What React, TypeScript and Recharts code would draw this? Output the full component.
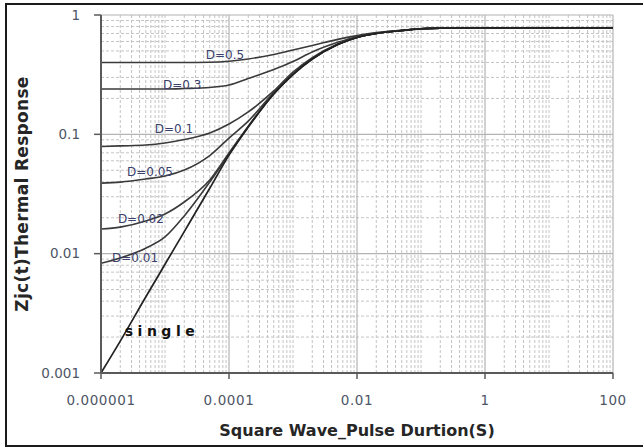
import React from 'react';
import { LineChart, Line, XAxis, YAxis, CartesianGrid, ReferenceDot } from 'recharts';

// pulse durations (s)
const durations = [1e-6, 2e-6, 5e-6, 1e-5, 2e-5, 5e-5, 1e-4, 2e-4, 5e-4, 1e-3, 2e-3, 5e-3, 1e-2, 2e-2, 5e-2, 0.1, 0.2, 1, 10, 100];

// thermal response per duty cycle
const single = [0.001, 0.00185, 0.00433, 0.00815, 0.0153, 0.0353, 0.067, 0.115, 0.218, 0.317, 0.428, 0.566, 0.648, 0.7, 0.741, 0.766, 0.776, 0.78, 0.78, 0.78];
const d05 = [0.4, 0.4, 0.4, 0.4, 0.4, 0.402, 0.41, 0.428, 0.467, 0.509, 0.555, 0.625, 0.672, 0.712, 0.745, 0.768, 0.777, 0.78, 0.78, 0.78];
const d03 = [0.24, 0.24, 0.24, 0.24, 0.242, 0.247, 0.259, 0.294, 0.349, 0.408, 0.49, 0.59, 0.658, 0.705, 0.743, 0.767, 0.777, 0.78, 0.78, 0.78];
const d01 = [0.079, 0.08, 0.0813, 0.0845, 0.0904, 0.1025, 0.122, 0.154, 0.231, 0.333, 0.44, 0.572, 0.652, 0.701, 0.742, 0.766, 0.776, 0.78, 0.78, 0.78];
const d005 = [0.039, 0.0398, 0.0422, 0.0447, 0.0502, 0.0664, 0.0931, 0.129, 0.224, 0.322, 0.431, 0.568, 0.649, 0.7, 0.741, 0.766, 0.776, 0.78, 0.78, 0.78];
const d002 = [0.0161, 0.0167, 0.0188, 0.0215, 0.0271, 0.0414, 0.0697, 0.117, 0.219, 0.319, 0.429, 0.567, 0.648, 0.7, 0.741, 0.766, 0.776, 0.78, 0.78, 0.78];
const d001 = [0.0083, 0.0092, 0.0111, 0.0138, 0.0207, 0.0398, 0.0684, 0.116, 0.218, 0.318, 0.428, 0.566, 0.648, 0.7, 0.741, 0.766, 0.776, 0.78, 0.78, 0.78];

const xTicks = [1e-6, 1e-4, 1e-2, 1, 100];
const xTickLabels = ['0.000001', '0.0001', '0.01', '1', '100'];
const yTicks = [0.001, 0.01, 0.1, 1];
const yTickLabels = ['0.001', '0.01', '0.1', '1'];

const curveLabels = ['D=0.5', 'D=0.3', 'D=0.1', 'D=0.05', 'D=0.02', 'D=0.01'];
const curveLabelX = [8.66e-5, 1.85e-5, 1.38e-5, 5.83e-6, 4.2e-6, 3.4e-6];
const curveLabelY = [0.462, 0.259, 0.111, 0.0483, 0.0195, 0.00918];
const singleLabel = 'single';
const singleLabelX = 8.97e-6;
const singleLabelY = 0.00224;

const xTitle = 'Square Wave_Pulse Durtion(S)';
const yTitle = 'Zjc(t)Thermal Response';

const data = durations.map((x, i) => ({
  x,
  single: single[i],
  d05: d05[i],
  d03: d03[i],
  d01: d01[i],
  d005: d005[i],
  d002: d002[i],
  d001: d001[i],
}));

const X_MIN = -6, X_MAX = 2, Y_MIN = -3, Y_MAX = 0;
const mult = [1, 2, 3, 4, 5, 6, 7, 8, 9];
const xGridAll: number[] = [];
for (let k = X_MIN; k < X_MAX; k++) mult.forEach((m) => xGridAll.push(m * Math.pow(10, k)));
xGridAll.push(100);
const yGridAll: number[] = [];
for (let k = Y_MIN; k < Y_MAX; k++) mult.forEach((m) => yGridAll.push(m * Math.pow(10, k)));
yGridAll.push(1);

const isTick = (v: number, ticks: number[]) => ticks.some((t) => Math.abs(Math.log10(v) - Math.log10(t)) < 1e-6);
const xMinor = xGridAll.filter((v) => !isTick(v, xTicks));
const yMinor = yGridAll.filter((v) => !isTick(v, yTicks));

const xPix = (v: number, off: any) => off.left + (off.width * (Math.log10(v) - X_MIN)) / (X_MAX - X_MIN);
const yPix = (v: number, off: any) => off.top + (off.height * (Y_MAX - Math.log10(v))) / (Y_MAX - Y_MIN);

const fmt = (labels: string[], ticks: number[]) => (v: number) => {
  const i = ticks.findIndex((t) => Math.abs(Math.log10(t) - Math.log10(v)) < 1e-6);
  return i >= 0 ? labels[i] : '';
};

const tickFont = { fontFamily: 'DejaVu Sans', fontSize: 13.5, fill: '#4d5566' };
const labelFill = '#3b3f6b';

export default function App() {
  return (
    <div style={{ position: 'absolute', left: 0, top: 0, width: 643, height: 448, overflow: 'hidden', background: '#fff' }}>
      <LineChart
        width={643}
        height={448}
        data={data}
        margin={{ top: 15, right: 30, bottom: 45, left: 41 }}
        style={{ position: 'absolute', left: 0, top: 0 }}
      >
        <CartesianGrid
          stroke="#c4c4c4"
          strokeDasharray="3 2"
          horizontalCoordinatesGenerator={({ offset }: any) => yMinor.map((v) => yPix(v, offset))}
          verticalCoordinatesGenerator={({ offset }: any) => xMinor.map((v) => xPix(v, offset))}
        />
        <CartesianGrid
          stroke="#b4b4b4"
          strokeWidth={1.2}
          horizontalCoordinatesGenerator={({ offset }: any) => yTicks.map((v) => yPix(v, offset))}
          verticalCoordinatesGenerator={({ offset }: any) => xTicks.map((v) => xPix(v, offset))}
        />
        <XAxis
          dataKey="x"
          type="number"
          scale="log"
          domain={[1e-6, 100]}
          allowDataOverflow
          ticks={xTicks}
          tickFormatter={fmt(xTickLabels, xTicks)}
          height={30}
          tickSize={6}
          tickMargin={16}
          axisLine={{ stroke: '#5a5a5a', strokeWidth: 2 }}
          tickLine={{ stroke: '#5a5a5a', strokeWidth: 1.5 }}
          tick={{ ...tickFont, letterSpacing: 0.6 }}
          interval={0}
        />
        <YAxis
          type="number"
          scale="log"
          domain={[0.001, 1]}
          allowDataOverflow
          ticks={yTicks}
          tickFormatter={fmt(yTickLabels, yTicks)}
          width={60}
          tickSize={7}
          tickMargin={14}
          axisLine={{ stroke: '#5a5a5a', strokeWidth: 2 }}
          tickLine={{ stroke: '#5a5a5a', strokeWidth: 1.5 }}
          tick={tickFont}
          interval={0}
        />
        <Line dataKey="d05" type="monotone" stroke="#3a3a3a" strokeWidth={1.6} dot={false} isAnimationActive={false} />
        <Line dataKey="d03" type="monotone" stroke="#3a3a3a" strokeWidth={1.6} dot={false} isAnimationActive={false} />
        <Line dataKey="d01" type="monotone" stroke="#3a3a3a" strokeWidth={1.6} dot={false} isAnimationActive={false} />
        <Line dataKey="d005" type="monotone" stroke="#3a3a3a" strokeWidth={1.6} dot={false} isAnimationActive={false} />
        <Line dataKey="d002" type="monotone" stroke="#3a3a3a" strokeWidth={1.6} dot={false} isAnimationActive={false} />
        <Line dataKey="d001" type="monotone" stroke="#3a3a3a" strokeWidth={1.6} dot={false} isAnimationActive={false} />
        <Line dataKey="single" type="monotone" stroke="#222" strokeWidth={1.7} dot={false} isAnimationActive={false} />
        {curveLabels.map((t, i) => (
          <ReferenceDot
            key={t}
            x={curveLabelX[i]}
            y={curveLabelY[i]}
            r={0}
            fill="none"
            stroke="none"
            label={{ value: t, position: 'center', fill: labelFill, fontSize: 12, fontFamily: 'DejaVu Sans' }}
          />
        ))}
        <ReferenceDot
          x={singleLabelX}
          y={singleLabelY}
          r={0}
          fill="none"
          stroke="none"
          label={{ value: singleLabel, position: 'center', fill: '#111', fontSize: 14, fontWeight: 'bold', fontFamily: 'DejaVu Sans', letterSpacing: 4.5 }}
        />
      </LineChart>
      <div
        style={{
          position: 'absolute',
          left: 357,
          top: 430,
          transform: 'translate(-50%, -50%)',
          whiteSpace: 'nowrap',
          fontFamily: 'DejaVu Sans',
          fontWeight: 'bold',
          fontSize: 16,
          color: '#262626',
        }}
      >
        {xTitle}
      </div>
      <div
        style={{
          position: 'absolute',
          left: 22,
          top: 194,
          transform: 'translate(-50%, -50%) rotate(-90deg)',
          whiteSpace: 'nowrap',
          fontFamily: 'DejaVu Sans',
          fontWeight: 'bold',
          fontSize: 17,
          letterSpacing: 0.3,
          color: '#262626',
        }}
      >
        {yTitle}
      </div>
      <div
        style={{
          position: 'absolute',
          left: 5,
          top: 3,
          width: 660,
          height: 444,
          border: '2px solid #1a1a1a',
          boxSizing: 'border-box',
          pointerEvents: 'none',
        }}
      />
    </div>
  );
}
